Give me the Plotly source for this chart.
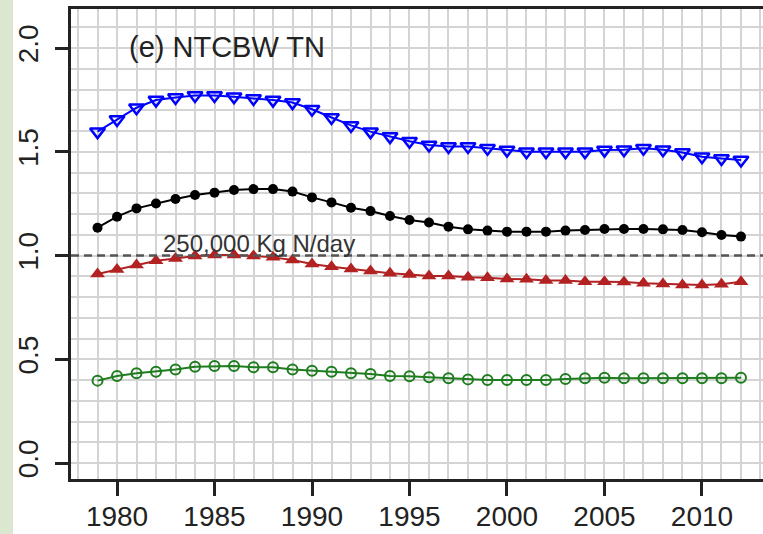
import plotly.graph_objects as go

years = list(range(1979, 2013))

blue_vals = [1.597, 1.656, 1.712, 1.749, 1.762, 1.771, 1.771, 1.765, 1.757, 1.749,
             1.737, 1.705, 1.665, 1.627, 1.597, 1.573, 1.551, 1.533, 1.525, 1.525,
             1.517, 1.508, 1.500, 1.500, 1.500, 1.500, 1.508, 1.510, 1.517, 1.510,
             1.496, 1.476, 1.468, 1.460]

black_vals = [1.134, 1.187, 1.227, 1.251, 1.272, 1.292, 1.303, 1.316, 1.320, 1.320,
              1.308, 1.280, 1.256, 1.230, 1.214, 1.190, 1.171, 1.159, 1.139, 1.126,
              1.120, 1.115, 1.115, 1.115, 1.120, 1.123, 1.128, 1.128, 1.128, 1.126,
              1.123, 1.112, 1.099, 1.091]

red_vals = [0.911, 0.933, 0.954, 0.975, 0.986, 0.998, 1.002, 1.002, 0.998, 0.991,
            0.978, 0.959, 0.946, 0.935, 0.925, 0.914, 0.908, 0.901, 0.901, 0.895,
            0.893, 0.887, 0.885, 0.879, 0.879, 0.874, 0.874, 0.872, 0.866, 0.863,
            0.858, 0.858, 0.861, 0.874]

green_vals = [0.397, 0.419, 0.432, 0.440, 0.451, 0.464, 0.467, 0.467, 0.461, 0.461,
              0.451, 0.445, 0.440, 0.432, 0.429, 0.419, 0.418, 0.413, 0.408, 0.403,
              0.400, 0.400, 0.400, 0.400, 0.405, 0.408, 0.411, 0.408, 0.408, 0.408,
              0.408, 0.408, 0.408, 0.411]

x_tick_vals = [1980, 1985, 1990, 1995, 2000, 2005, 2010]
y_tick_vals = [0.0, 0.5, 1.0, 1.5, 2.0]
y_tick_text = ["0.0", "0.5", "1.0", "1.5", "2.0"]
title_text = "(e) NTCBW TN"
ref_value = 1.0
ref_label = "250,000 Kg N/day"

fig = go.Figure()

fig.add_trace(go.Scatter(
    x=years, y=blue_vals, mode="lines+markers",
    line=dict(color="#0000ff", width=2),
    marker=dict(symbol="triangle-down-open", size=13, color="#0000ff",
                line=dict(color="#0000ff", width=2.5)),
    showlegend=False))

fig.add_trace(go.Scatter(
    x=years, y=black_vals, mode="lines+markers",
    line=dict(color="#000000", width=2),
    marker=dict(symbol="circle", size=10, color="#000000"),
    showlegend=False))

fig.add_trace(go.Scatter(
    x=years, y=red_vals, mode="lines+markers",
    line=dict(color="#b22222", width=2),
    marker=dict(symbol="triangle-up", size=13, color="#b22222"),
    showlegend=False))

fig.add_trace(go.Scatter(
    x=years, y=green_vals, mode="lines+markers",
    line=dict(color="#1e7d1e", width=2),
    marker=dict(symbol="circle-open", size=10, color="#1e7d1e",
                line=dict(color="#1e7d1e", width=2)),
    showlegend=False))

# reference dashed line
fig.add_hline(y=ref_value, line=dict(color="#555555", width=2.5, dash="8px,5px"),
              layer="above")

fig.add_annotation(x=1987.3, y=ref_value, text=ref_label, showarrow=False,
                   xanchor="center", yanchor="bottom", yshift=-3,
                   font=dict(family="Liberation Sans, Arial", size=24, color="#333333"))

fig.add_annotation(x=1980.5, y=2.006, text=title_text, showarrow=False,
                   xanchor="left", yanchor="middle",
                   font=dict(family="Liberation Sans, Arial", size=29, color="#222222"))

# light green strip at left page edge
fig.add_shape(type="rect", xref="paper", yref="paper",
              x0=-71/692, x1=-58/692, y0=-1, y1=2,
              fillcolor="#dbe8cf", line=dict(width=0), layer="below")

grid_color = "#d4d4d4"

fig.update_xaxes(
    range=[1977.64, 2013.13],
    tickmode="array", tickvals=x_tick_vals,
    ticks="outside", ticklen=14, tickwidth=2.5, tickcolor="#222222",
    showline=True, linecolor="#222222", linewidth=3, mirror=True,
    showgrid=True, gridcolor=grid_color, gridwidth=1.6,
    minor=dict(dtick=1, tick0=1978, showgrid=True, gridcolor=grid_color, gridwidth=1.6, ticks=""),
    zeroline=False, automargin=False,
    tickfont=dict(family="Liberation Sans, Arial", size=28, color="#222222"),
    ticklabelstandoff=-4,
)

fig.update_yaxes(
    range=[-0.0771, 2.188],
    tickmode="array", tickvals=y_tick_vals, ticktext=y_tick_text,
    tickangle=-90,
    ticks="outside", ticklen=13, tickwidth=2.5, tickcolor="#222222",
    showline=True, linecolor="#222222", linewidth=3, mirror=False,
    showgrid=True, gridcolor=grid_color, gridwidth=1.6,
    minor=dict(dtick=0.1, tick0=0, showgrid=True, gridcolor=grid_color, gridwidth=1.6, ticks=""),
    zeroline=False, automargin=False,
    tickfont=dict(family="Liberation Sans, Arial", size=28, color="#222222"),
    ticklabelstandoff=6,
)

fig.update_layout(
    width=763, height=534,
    margin=dict(l=71, r=0, t=9, b=55),
    paper_bgcolor="#ffffff", plot_bgcolor="#ffffff",
)

fig.write_html("out.html")
